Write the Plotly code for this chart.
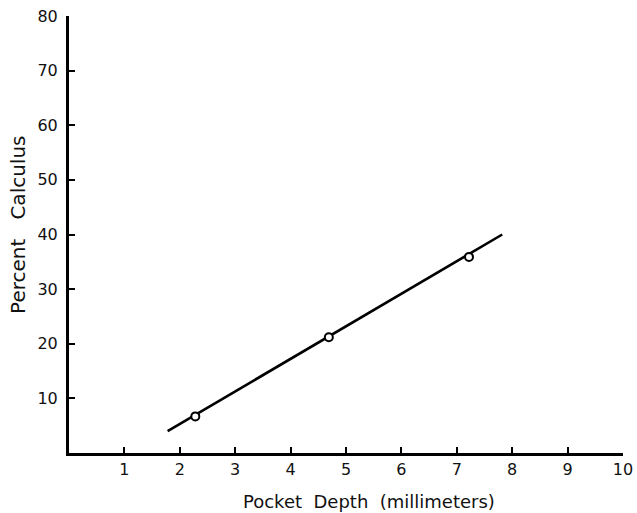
import plotly.graph_objects as go

# Data
depth_mm = [2.28, 4.69, 7.22]
percent_calculus = [6.7, 21.2, 35.9]
fit_x = [1.78, 7.82]
fit_y = [4.0, 40.0]

x_ticks = [1, 2, 3, 4, 5, 6, 7, 8, 9, 10]
y_ticks = [10, 20, 30, 40, 50, 60, 70, 80]

x_title = "Pocket  Depth  (millimeters)"
y_title = "Percent   Calculus"

fig = go.Figure()
fig.add_trace(go.Scatter(x=fit_x, y=fit_y, mode="lines",
                         line=dict(color="black", width=2.6), showlegend=False))
fig.add_trace(go.Scatter(x=depth_mm, y=percent_calculus, mode="markers",
                         marker=dict(symbol="circle", size=8, color="white",
                                     line=dict(color="black", width=2)),
                         showlegend=False, cliponaxis=False))

FAM = "DejaVu Sans, Liberation Sans, Arial, sans-serif"
tickfont = dict(family=FAM, size=16, color="#111")

fig.update_layout(
    width=637, height=513,
    margin=dict(l=69, r=14, t=16, b=60, autoexpand=False),
    paper_bgcolor="white", plot_bgcolor="white",
    font=dict(family=FAM, size=16, color="#111"),
    xaxis=dict(range=[0, 10], tickvals=x_ticks, ticktext=[str(v) for v in x_ticks],
               showgrid=False, zeroline=False, showline=True, linecolor="black",
               linewidth=3, ticks="inside", ticklen=6, tickwidth=1.5, tickcolor="black",
               tickfont=tickfont, automargin=False, ticklabelstandoff=0,
               ticklabeloverflow="allow"),
    yaxis=dict(range=[0, 80], tickvals=y_ticks, ticktext=[str(v) for v in y_ticks],
               showgrid=False, zeroline=False, showline=True, linecolor="black",
               linewidth=3, ticks="inside", ticklen=6, tickwidth=1.5, tickcolor="black",
               tickfont=tickfont, automargin=False, ticklabelstandoff=5,
               ticklabeloverflow="allow"),
    annotations=[
        dict(text=x_title, xref="paper", yref="paper", x=0.5415, y=-0.112,
             xanchor="center", yanchor="middle", showarrow=False,
             font=dict(family=FAM, size=18, color="#111")),
        dict(text=y_title, xref="paper", yref="paper", x=-0.092, y=0.522,
             xanchor="center", yanchor="middle", showarrow=False, textangle=-90,
             font=dict(family=FAM, size=20, color="#111")),
    ],
)

fig.write_html(
    "out.html",
    config={"displayModeBar": False},
    post_script="document.body.style.margin='0';document.body.style.overflow='hidden';",
)
